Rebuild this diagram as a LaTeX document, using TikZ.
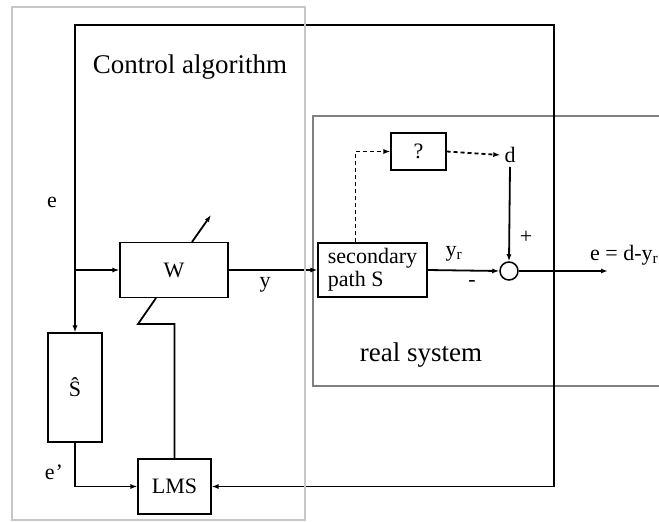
\documentclass[tikz,border=0pt]{standalone}
\usepackage{fontspec}
\setmainfont{Liberation Serif}
\usetikzlibrary{arrows.meta,positioning}

\begin{document}
\begin{tikzpicture}[x=1pt, y=-1pt,
  ancbox/.style={draw=black, line width=1.1pt, inner sep=0pt, align=center, font=\fontsize{22}{23}\selectfont},
  ancline/.style={line width=1.8pt},
  ancarr/.style={-{Latex[length=7pt,width=5pt]}, line width=1.8pt},
  anclbl/.style={inner sep=0pt, font=\fontsize{22}{23}\selectfont},
  ancbig/.style={inner sep=0pt, font=\fontsize{27}{30}\selectfont}
]
\useasboundingbox (0,0) rectangle (659,522);
\draw[draw=black!50, line width=2.5pt] (313,116) rectangle (680,386);
% blocks
\node[ancbox, minimum width=108pt, minimum height=55pt] (w) at (174,270) {W};
\node[ancbox, minimum width=54pt, minimum height=109pt] (shat) at (75,387.5) {Ŝ};
\node[ancbox, minimum width=73pt, minimum height=55pt] (lms) at (174.5,486.5) {LMS};
\node[ancbox, minimum width=109pt, minimum height=54pt, align=left] (sec) at (372.5,270) {secondary\\path S};
\node[ancbox, minimum width=55pt, minimum height=37pt] (unk) at (418.5,151.5) {?};
\node[draw=black, line width=1.5pt, circle, minimum size=18pt, inner sep=0pt] (sum) at (509,271) {};
\node[anclbl, inner sep=4pt] (d) at (510,155) {d};
\coordinate (tap) at (554,271);
\coordinate (tr) at (554,25);
\coordinate (tl) at (75,25);
\coordinate (knee) at (138,324);
\coordinate (wtip) at (211,215);
\coordinate (eout) at (608,271);
% labels
\node[ancbig] (ctrl) at (190,67) {Control algorithm};
\node[ancbig] (real) at (421,355) {real system};
\node[anclbl] (le) at (52,202) {e};
\node[anclbl] (lep) at (54,472) {e\kern1pt’};
\node[anclbl] (ly) at (265,285) {y};
\node[anclbl] (lyr) at (454,254) {y\textsubscript{r}};
\node[anclbl] (lminus) at (472,283) {-};
\node[anclbl] (lplus) at (526,237) {+};
\node[anclbl, anchor=base west] (lout) at (590,260) {e = d-y\textsubscript{r}};
% connectors
\draw[ancarr] (tap) -- (tr) -- (tl) |- (w.west);
\draw[ancarr] (tl |- w.west) -- (shat.north);
\draw[ancarr] (tap) |- (lms.east);
\draw[ancarr] (shat.south) |- (lms.west);
\draw[ancline] (lms.north) |- (knee) -- ([xshift=-18pt]w.south);
\draw[ancarr] ([xshift=18pt]w.north) -- (wtip);
\draw[ancarr] (w.east) -- (sec.west);
\draw[ancarr] (sec.east) -- (sum.west);
\draw[ancarr] (sum.east) -- (eout);
\draw[ancarr, dash pattern=on 4pt off 3pt] ([xshift=-17pt]sec.north) |- (unk.west);
\draw[ancarr, dash pattern=on 4pt off 3pt] (unk.east) -- (d.west);
\draw[ancarr] (d.south) -- (sum.north);
\draw[draw=black!22, line width=2.5pt] (12,7) rectangle (305,520);
\end{tikzpicture}
\end{document}
